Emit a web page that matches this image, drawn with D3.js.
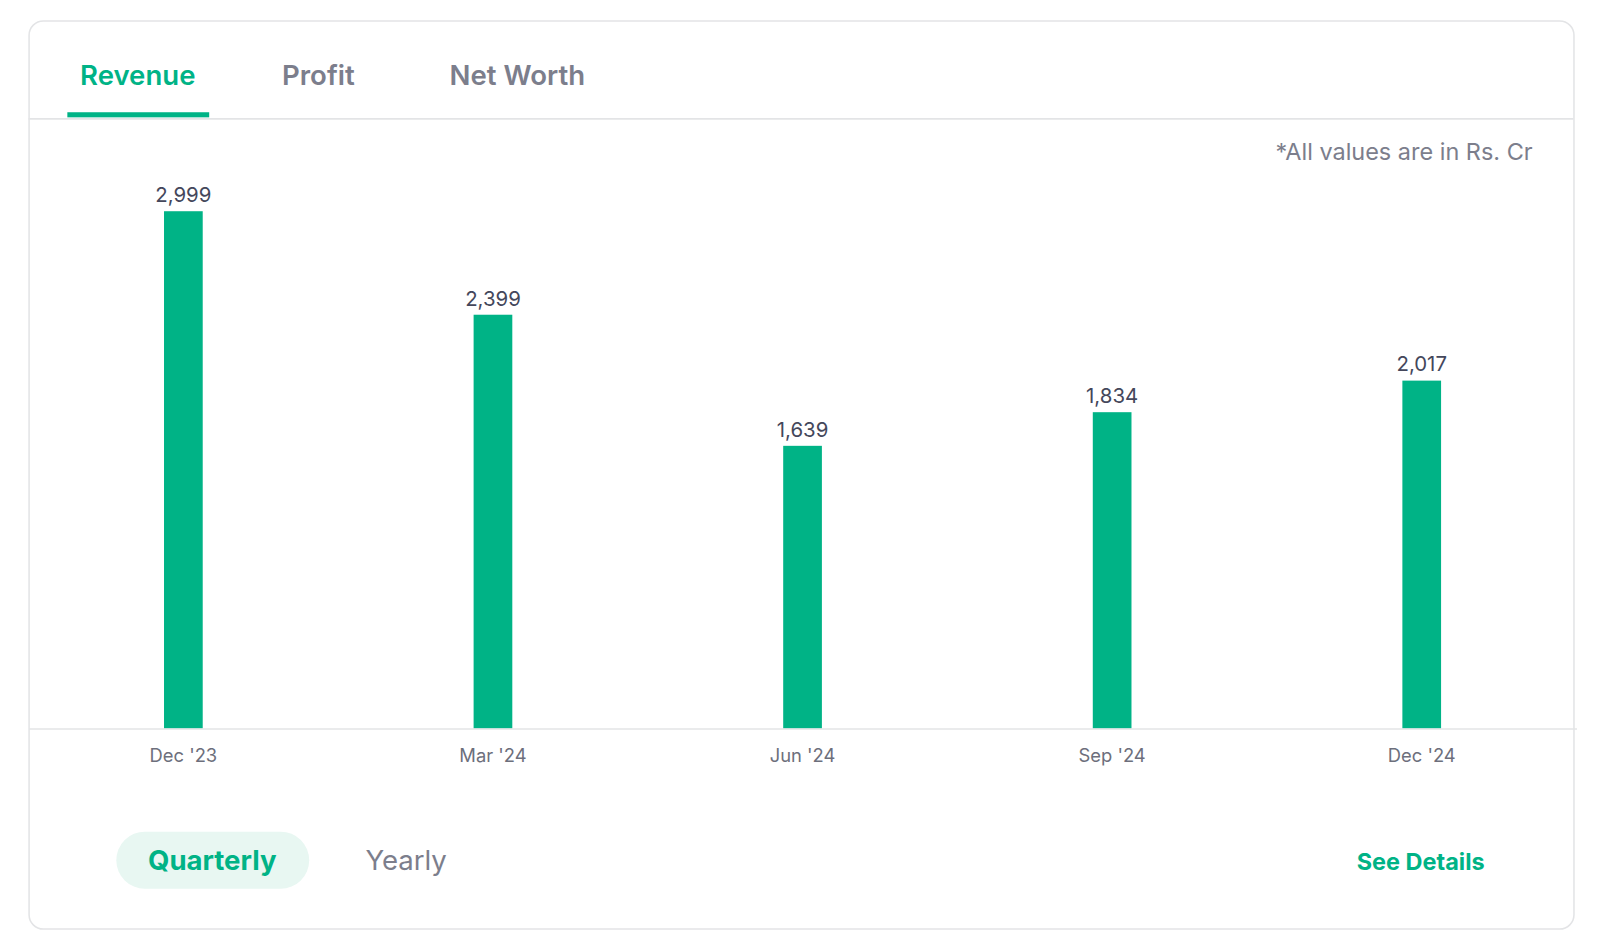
<!DOCTYPE html>
<html>
<head>
<meta charset="utf-8">
<script src="https://cdn.jsdelivr.net/npm/d3@7"></script>
<style>
  body { margin: 0; background: #fff; }
  text { font-family: Inter, "Noto Sans", sans-serif; }
</style>
</head>
<body>
<svg id="chart"></svg>
<script>
// data
var quarters = ["Dec '23", "Mar '24", "Jun '24", "Sep '24", "Dec '24"]
var revenue = [2999, 2399, 1639, 1834, 2017]
var tabs = ["Revenue", "Profit", "Net Worth"]
var tabX = [135, 312, 507]

var dimensions = {
    width: 1600,
    height: 950,
    margin: { top: 207, bottom: 236, left: 28, right: 55 }
}
var green = "#00b386"

var root = d3.select("#chart")
    .attr("width", dimensions.width)
    .attr("height", dimensions.height)

var svg = root.append("g").attr("transform", "scale(1.0204)")

// card
svg.append("rect")
    .attr("x", 28.5).attr("y", 20.5)
    .attr("width", 1514).attr("height", 890)
    .attr("rx", 14)
    .attr("fill", "#fff")
    .attr("stroke", "#e3e4e6")
    .attr("stroke-width", 1.5)

// tabs
svg.append("g").selectAll("text")
    .data(tabs)
    .enter()
    .append("text")
    .attr("x", (d, i) => tabX[i])
    .attr("y", 83)
    .attr("text-anchor", "middle")
    .style("font-size", "27px")
    .style("font-weight", 600)
    .attr("fill", (d, i) => i == 0 ? green : "#7c7e8c")
    .text(d => d)

svg.append("line")
    .attr("x1", 28).attr("x2", 1542)
    .attr("y1", 116.5).attr("y2", 116.5)
    .attr("stroke", "#e3e4e6").attr("stroke-width", 1.5)

svg.append("rect")
    .attr("x", 66).attr("y", 110)
    .attr("width", 139).attr("height", 5)
    .attr("fill", green)

svg.append("text")
    .attr("x", 1502).attr("y", 157)
    .attr("text-anchor", "end")
    .style("font-size", "23px")
    .attr("fill", "#7c7e8c")
    .text("*All values are in Rs. Cr")

var baseY = dimensions.height - dimensions.margin.bottom

var xScale = d3.scaleBand()
    .domain(quarters)
    .range([dimensions.margin.left, dimensions.width - dimensions.margin.right])
    .paddingInner(0.875)
    .paddingOuter(0.4375)

var yScale = d3.scaleLinear()
    .domain([0, d3.max(revenue)])
    .range([baseY, dimensions.margin.top])

svg.append("g")
    .selectAll("rect")
    .data(quarters)
    .enter()
    .append("rect")
    .attr("x", d => xScale(d))
    .attr("y", (d, i) => yScale(revenue[i]))
    .attr("width", xScale.bandwidth())
    .attr("height", (d, i) => baseY - yScale(revenue[i]))
    .attr("fill", green)

svg.append("g")
    .selectAll("text")
    .data(quarters)
    .enter()
    .append("text")
    .attr("x", d => xScale(d) + xScale.bandwidth() / 2)
    .attr("y", (d, i) => yScale(revenue[i]) - 9)
    .attr("text-anchor", "middle")
    .style("font-size", "20px")
    .attr("fill", "#44475b")
    .text((d, i) => d3.format(",")(revenue[i]))

var xAxis = d3.axisBottom(xScale).tickSize(0).tickPadding(20)

var gx = svg.append("g")
    .attr("class", "x-axis")
    .attr("transform", "translate(0," + baseY + ")")
    .call(xAxis)
gx.select(".domain").attr("stroke", "#e3e4e6").attr("stroke-width", 1.5)
gx.selectAll("text")
    .style("font-family", "Inter, sans-serif")
    .style("font-size", "18px")
    .attr("fill", "#6d6f7c")

// bottom controls
svg.append("rect")
    .attr("x", 114).attr("y", 815)
    .attr("width", 189).attr("height", 56)
    .attr("rx", 28)
    .attr("fill", "#e8f7f2")
svg.append("text")
    .attr("x", 208).attr("y", 853)
    .attr("text-anchor", "middle")
    .style("font-size", "27px").style("font-weight", 700)
    .attr("fill", green)
    .text("Quarterly")
svg.append("text")
    .attr("x", 398).attr("y", 853)
    .attr("text-anchor", "middle")
    .style("font-size", "27px")
    .attr("fill", "#7c7e8c")
    .text("Yearly")
svg.append("text")
    .attr("x", 1455).attr("y", 853)
    .attr("text-anchor", "end")
    .style("font-size", "23px").style("font-weight", 700)
    .attr("fill", green)
    .text("See Details")
</script>
</body>
</html>
